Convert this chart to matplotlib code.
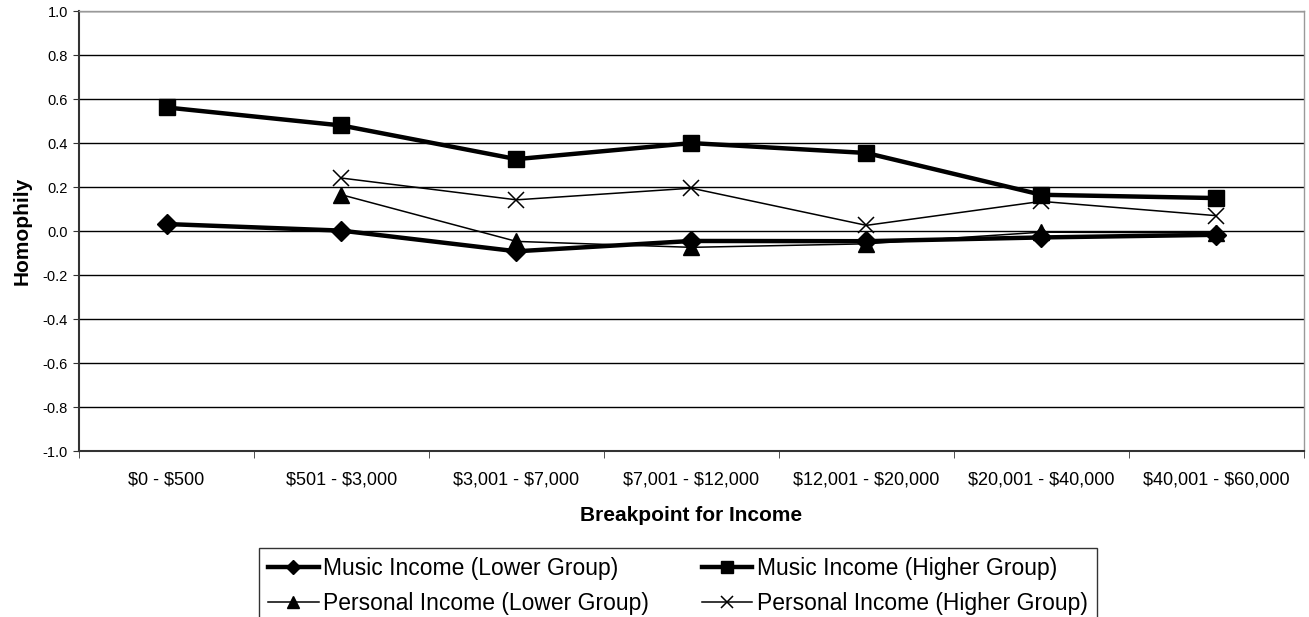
import matplotlib.pyplot as plt
import numpy as np

plt.rcParams['font.family'] = ['Liberation Sans', 'DejaVu Sans']

# income breakpoints
categories = ['$0 - $500', '$501 - $3,000', '$3,001 - $7,000', '$7,001 - $12,000',
              '$12,001 - $20,000', '$20,001 - $40,000', '$40,001 - $60,000']

music_lower = [0.032, 0.002, -0.092, -0.045, -0.046, -0.029, -0.017]
music_higher = [0.562, 0.480, 0.327, 0.400, 0.355, 0.165, 0.150]
personal_lower = [np.nan, 0.165, -0.047, -0.074, -0.058, -0.005, -0.008]
personal_higher = [np.nan, 0.241, 0.142, 0.195, 0.026, 0.135, 0.070]

yticks = np.round(np.arange(-1.0, 1.01, 0.2), 1) + 0.0

x = np.arange(len(categories))

fig = plt.figure(figsize=(13.09, 6.17), dpi=100)
ax = fig.add_axes([0.0604, 0.269, 0.9356, 0.713])

l1, = ax.plot(x, music_lower, color='black', lw=3.2, marker='D', ms=10, label='Music Income (Lower Group)')
l2, = ax.plot(x, music_higher, color='black', lw=3.2, marker='s', ms=11, label='Music Income (Higher Group)')
l3, = ax.plot(x, personal_lower, color='black', lw=1.1, marker='^', ms=11, label='Personal Income (Lower Group)')
l4, = ax.plot(x, personal_higher, color='black', lw=1.1, marker='x', ms=11, mew=1.1,
              label='Personal Income (Higher Group)')

ax.set_xlim(-0.5, len(categories) - 0.5)
ax.set_ylim(-1.0, 1.0)
ax.set_yticks(yticks)
ax.set_yticklabels(['%.1f' % v for v in yticks])
ax.set_xticks(x)
ax.set_xticklabels(categories, parse_math=False)
ax.set_xticks(np.arange(-0.5, len(categories)), minor=True)
ax.tick_params(axis='x', which='major', length=0, pad=15, labelsize=13)
ax.tick_params(axis='x', which='minor', length=5, direction='out', color='#333333')
ax.tick_params(axis='y', length=4, direction='out', labelsize=10.5, pad=4, color='#333333')

ax.grid(axis='y', color='black', lw=1.0)
ax.set_axisbelow(True)
for side in ['left', 'bottom']:
    ax.spines[side].set_color('#333333')
    ax.spines[side].set_linewidth(1.5)
for side in ['top', 'right']:
    ax.spines[side].set_color('#999999')
    ax.spines[side].set_linewidth(1.0)

ax.set_ylabel('Homophily', fontsize=15, fontweight='bold', labelpad=8)
ax.set_xlabel('Breakpoint for Income', fontsize=15, fontweight='bold', labelpad=12)

# row-major order: music pair on top, personal pair below
leg = fig.legend(handles=[l1, l3, l2, l4], loc='upper left',
                 bbox_to_anchor=(259 / 1309, 1 - 548 / 617), bbox_transform=fig.transFigure,
                 borderaxespad=0, ncol=2, frameon=True, fancybox=False, edgecolor='black',
                 fontsize=16.5, handlelength=2.2, handletextpad=0.2, columnspacing=2.3,
                 borderpad=0.4, labelspacing=0.5, markerscale=0.75)
leg.get_frame().set_linewidth(1.0)

fig.savefig('out.png', dpi=100)
